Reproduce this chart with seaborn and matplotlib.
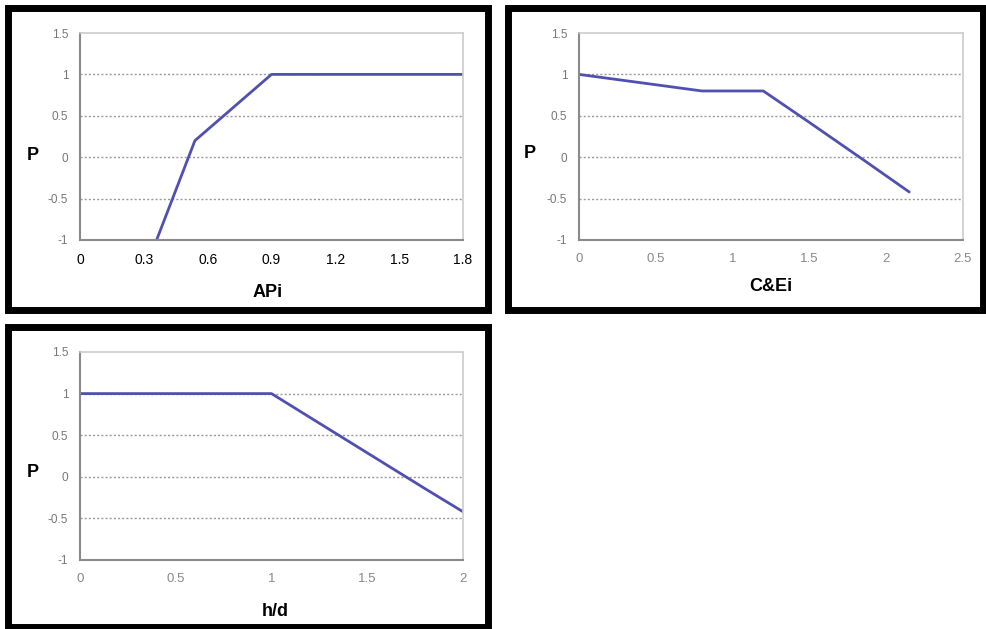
import numpy as np
import pandas as pd
import seaborn as sns
import matplotlib.pyplot as plt
from matplotlib.patches import Rectangle

# Data
api_x = [0.36, 0.54, 0.9, 1.8]
api_p = [-1.0, 0.2, 1.0, 1.0]

ce_x = [0.0, 0.8, 1.2, 1.5, 1.85, 2.15]
ce_p = [1.0, 0.8, 0.8, 0.42, -0.03, -0.42]

hd_x = [0.0, 1.0, 1.4, 1.8, 2.0]
hd_p = [1.0, 1.0, 0.43, -0.14, -0.42]

y_ticks = [-1, -0.5, 0, 0.5, 1, 1.5]
y_labels = ['-1', '-0.5', '0', '0.5', '1', '1.5']

api_ticks = [0, 0.3, 0.6, 0.9, 1.2, 1.5, 1.8]
api_labels = ['0', '0.3', '0.6', '0.9', '1.2', '1.5', '1.8']
ce_ticks = [0, 0.5, 1, 1.5, 2, 2.5]
ce_labels = ['0', '0.5', '1', '1.5', '2', '2.5']
hd_ticks = [0, 0.5, 1, 1.5, 2]
hd_labels = ['0', '0.5', '1', '1.5', '2']

sns.set_style('white')
plt.rcParams['font.family'] = ['Liberation Sans', 'DejaVu Sans']

W, H = 987, 629
fig = plt.figure(figsize=(W / 100, H / 100), dpi=100)

LINE = '#5050b0'


def frame(x0, y0, x1, y1):
    # pixel box, top-left origin
    fig.patches.append(Rectangle((x0 / W, 1 - y1 / H), (x1 - x0) / W, (y1 - y0) / H,
                                 transform=fig.transFigure, fill=False,
                                 edgecolor='black', linewidth=5, zorder=0))


def panel(l, t, r, b, xs, ps, xticks, xlabels, xlab, xlim, lab_pos, p_pos, xtick_color):
    ax = fig.add_axes([l / W, 1 - b / H, (r - l) / W, (b - t) / H])
    df = pd.DataFrame({'x': xs, 'P': ps})
    sns.lineplot(data=df, x='x', y='P', ax=ax, color=LINE, linewidth=2, sort=False)
    ax.set_xlim(*xlim)
    ax.set_ylim(-1, 1.5)
    for yv in [-0.5, 0, 0.5, 1]:
        ax.axhline(yv, color='#9a9a9a', linestyle=(0, (1.5, 1.5)), linewidth=1, zorder=0)
    ax.set_yticks(y_ticks)
    ax.set_yticklabels(y_labels, color='#777777', fontsize=8.5)
    ax.set_xticks(xticks)
    ax.set_xticklabels(xlabels, color=xtick_color, fontsize=10 if xtick_color == 'black' else 9.5)
    ax.tick_params(axis='both', direction='inout', length=5, width=1, color='#888888')
    ax.tick_params(axis='x', pad=7)
    ax.tick_params(axis='y', pad=6)
    for s in ['left', 'bottom']:
        ax.spines[s].set_color('#8a8a8a')
        ax.spines[s].set_linewidth(1.5)
    for s in ['top', 'right']:
        ax.spines[s].set_color('#cccccc')
        ax.spines[s].set_linewidth(1.2)
    ax.set_xlabel(xlab, fontsize=13, fontweight='bold', color='black', va='center')
    ax.xaxis.set_label_coords(*lab_pos)
    ax.set_ylabel('P', fontsize=13, fontweight='bold', color='black', rotation=0,
                  va='center', ha='center')
    ax.yaxis.set_label_coords(*p_pos)
    return ax


frame(8, 8, 488, 310)
frame(508, 8, 983, 310)
frame(8, 327, 488, 627)

panel(80, 33, 463, 240, api_x, api_p, api_ticks, api_labels, 'APi', (0, 1.8),
      (0.49, -0.256), (-0.123, 0.41), 'black')
panel(579, 33, 963, 240, ce_x, ce_p, ce_ticks, ce_labels, 'C&Ei', (0, 2.5),
      (0.50, -0.227), (-0.128, 0.42), '#888888')
panel(80, 352, 463, 560, hd_x, hd_p, hd_ticks, hd_labels, 'h/d', (0, 2),
      (0.51, -0.25), (-0.123, 0.42), '#888888')

fig.savefig('out.png', dpi=100)
